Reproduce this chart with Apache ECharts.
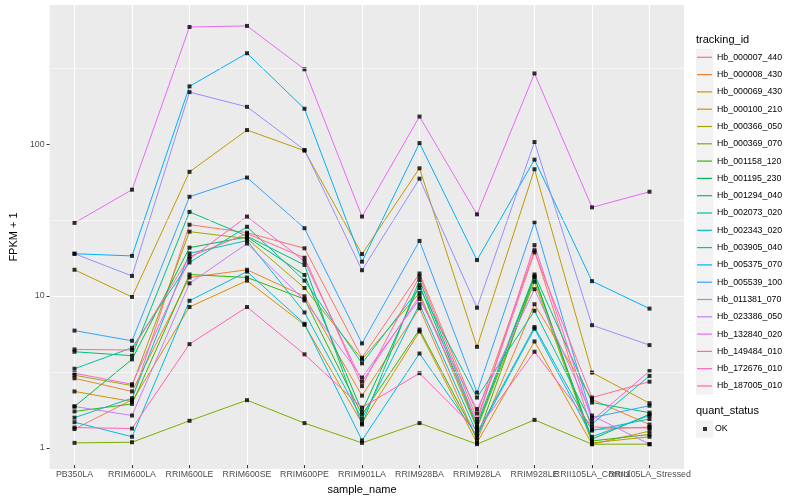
<!DOCTYPE html>
<html><head><meta charset="utf-8">
<script src="https://cdn.jsdelivr.net/npm/echarts@6/dist/echarts.min.js"></script>
<style>html,body{margin:0;padding:0;background:#fff}#c{width:800px;height:500px}</style>
</head><body><div id="c"></div>
<script>
const categories = ['PB350LA','RRIM600LA','RRIM600LE','RRIM600SE','RRIM600PE','RRIM901LA','RRIM928BA','RRIM928LA','RRIM928LE','RRII105LA_Control','RRII105LA_Stressed'];
const trackingIds = ['Hb_000007_440','Hb_000008_430','Hb_000069_430','Hb_000100_210','Hb_000366_050','Hb_000369_070','Hb_001158_120','Hb_001195_230','Hb_001294_040','Hb_002073_020','Hb_002343_020','Hb_003905_040','Hb_005375_070','Hb_005539_100','Hb_011381_070','Hb_023386_050','Hb_132840_020','Hb_149484_010','Hb_172676_010','Hb_187005_010'];
const colors = ['#F8766D','#EA8331','#D89000','#C09B00','#A3A500','#7CAE00','#39B600','#00BB4E','#00BF7D','#00C1A3','#00BFC4','#00BAE0','#00B0F6','#35A2FF','#9590FF','#C77CFF','#E76BF3','#FA62DB','#FF62BC','#FF6C91'];
const yTicks = [1, 10, 100];
const yMinorGrid = [3.1623, 31.623, 316.23];

const Hb_000007_440 = [1.26, 1.97, 28.7, 25.4, 20, 3.75, 13.6, 1.6, 19.4, 1.25, 1.3];
const Hb_000008_430 = [2.74, 2.24, 12.8, 14.4, 9.6, 2.1, 8.0, 1.06, 8.5, 1.98, 1.35];
const Hb_000069_430 = [2.24, 1.92, 8.15, 12.2, 6.2, 1.38, 5.6, 1.02, 4.81, 1.0, 1.22];
const Hb_000100_210 = [14.4, 9.5, 64.4, 122, 89, 18.3, 68, 4.43, 67, 2.99, 1.87];
const Hb_000366_050 = [2.87, 2.45, 25.8, 23.2, 10.9, 3.66, 10.1, 1.27, 12.0, 1.02, 1.12];
const Hb_000369_070 = [1.02, 1.03, 1.43, 1.96, 1.38, 1.02, 1.38, 1.0, 1.45, 1.0, 1.0];
const Hb_001158_120 = [1.65, 1.85, 13.4, 12.8, 9.2, 1.57, 5.77, 1.1, 12.8, 1.05, 1.16];
const Hb_001195_230 = [1.78, 3.66, 20.2, 23.8, 13.3, 1.65, 11.4, 1.3, 13.0, 1.08, 1.58];
const Hb_001294_040 = [4.11, 3.87, 34.9, 24.1, 15.5, 1.35, 12.3, 1.36, 13.4, 1.89, 1.62];
const Hb_002073_020 = [3.17, 4.37, 16.1, 27.8, 12.2, 3.44, 10.9, 2.04, 7.7, 1.36, 2.84];
const Hb_002343_020 = [1.5, 2.02, 18.5, 22.5, 7.5, 1.47, 8.5, 1.18, 6.0, 1.23, 1.47];
const Hb_003905_040 = [1.4, 1.12, 8.97, 14, 6.3, 1.06, 4.0, 1.14, 5.85, 1.12, 1.55];
const Hb_005375_070 = [18.4, 17.8, 238, 395, 169, 16.3, 100, 16.7, 77.6, 12.1, 7.95];
const Hb_005539_100 = [5.68, 4.86, 44, 59, 27.2, 4.67, 22.4, 2.2, 29.8, 1.5, 1.8];
const Hb_011381_070 = [18.4, 13.1, 218, 174, 90, 14.3, 58, 8.06, 101.6, 6.17, 4.55];
const Hb_023386_050 = [1.78, 1.55, 11.7, 21.5, 9.0, 2.77, 9.2, 1.71, 10.7, 1.55, 1.0];
const Hb_132840_020 = [29.5, 49, 590, 600, 309, 32.5, 150, 33.6, 290, 37.4, 47.5];
const Hb_149484_010 = [2.96, 2.5, 17, 32.5, 16.4, 2.6, 9.6, 1.4, 21, 1.43, 3.06];
const Hb_172676_010 = [1.29, 1.27, 4.62, 8.15, 3.95, 1.75, 2.96, 1.23, 4.11, 1.3, 1.28];
const Hb_187005_010 = [4.26, 4.22, 17.6, 25, 17.3, 2.43, 13.0, 1.47, 18.8, 2.04, 2.6];

const seriesValues = [Hb_000007_440,Hb_000008_430,Hb_000069_430,Hb_000100_210,Hb_000366_050,Hb_000369_070,Hb_001158_120,Hb_001195_230,Hb_001294_040,Hb_002073_020,Hb_002343_020,Hb_003905_040,Hb_005375_070,Hb_005539_100,Hb_011381_070,Hb_023386_050,Hb_132840_020,Hb_149484_010,Hb_172676_010,Hb_187005_010];

const FONT = 'Liberation Sans, Arial, Helvetica, sans-serif';
const yMin = Math.pow(10, -0.139), yMax = Math.pow(10, 2.917);

const series = [];
series.push({
  type: 'line', xAxisIndex: 0, yAxisIndex: 0, data: [], silent: true, z: 1,
  markLine: { silent: true, symbol: 'none', label: { show: false },
    lineStyle: { color: '#FFFFFF', width: 0.55, type: 'solid' },
    data: yMinorGrid.map(v => ({ yAxis: v })) }
});
trackingIds.forEach((name, k) => {
  series.push({
    name: name, type: 'line', xAxisIndex: 1, yAxisIndex: 1,
    data: seriesValues[k], showSymbol: false, symbol: 'none', z: 2,
    lineStyle: { color: colors[k], width: 1 }, itemStyle: { color: colors[k] },
    emphasis: { disabled: true }, animation: false
  });
});
const pts = [];
seriesValues.forEach(arr => arr.forEach((v, i) => pts.push([i, v])));
series.push({
  name: 'OK', type: 'scatter', xAxisIndex: 1, yAxisIndex: 1, data: pts,
  symbol: 'rect', symbolSize: 4, itemStyle: { color: '#000' }, z: 3, animation: false
});

const graphics = [];
const keyTop = 57.3 - 8.65, keyStep = 17.3;
trackingIds.forEach((n, k) => {
  graphics.push({ type: 'rect', left: 696, top: keyTop + k * keyStep, z: -1,
    shape: { width: 17.3, height: 17.3 }, style: { fill: '#F2F2F2' } });
});
graphics.push({ type: 'rect', left: 696, top: 429 - 8.65, z: -1,
  shape: { width: 17.3, height: 17.3 }, style: { fill: '#F2F2F2' } });

const option = {
  backgroundColor: '#FFFFFF',
  animation: false,
  textStyle: { fontFamily: FONT },
  title: [
    { text: 'tracking_id', left: 696, top: 34, padding: 0,
      textStyle: { fontSize: 11, fontWeight: 'normal', color: '#000', fontFamily: FONT } },
    { text: 'quant_status', left: 696, top: 405.5, padding: 0,
      textStyle: { fontSize: 11, fontWeight: 'normal', color: '#000', fontFamily: FONT } }
  ],
  graphic: graphics,
  legend: [
    { data: trackingIds.map((n, k) => ({ name: n, icon: 'rect', itemStyle: { color: colors[k] } })),
      orient: 'vertical', left: 697, top: 51.3, padding: 0,
      itemWidth: 15, itemHeight: 1.2, itemGap: 5.3, selectedMode: false,
      textStyle: { fontSize: 8.8, color: '#000', lineHeight: 12, fontFamily: FONT } },
    { data: [{ name: 'OK', icon: 'rect', itemStyle: { color: '#000' } }],
      orient: 'vertical', left: 703, top: 423, padding: 0,
      itemWidth: 4, itemHeight: 4, selectedMode: false,
      textStyle: { fontSize: 8.8, color: '#000', lineHeight: 12, padding: [0, 0, 0, 3], fontFamily: FONT } }
  ],
  grid: [
    { left: 40, right: 116, top: 5, bottom: 31, show: true, backgroundColor: '#EBEBEB', borderWidth: 0 },
    { left: 74.5, width: 575, top: 5, bottom: 31 }
  ],
  xAxis: [
    { gridIndex: 0, type: 'value', min: 0, max: 1, show: false },
    { gridIndex: 1, type: 'category', data: categories, boundaryGap: false,
      name: 'sample_name', nameLocation: 'middle', nameGap: 15,
      nameTextStyle: { fontSize: 11, color: '#000', fontFamily: FONT },
      axisLine: { show: false },
      axisTick: { show: true, length: 3, lineStyle: { color: '#333333', width: 1 } },
      axisLabel: { interval: 0, hideOverlap: false, color: '#4D4D4D', fontSize: 8.8, margin: 5, fontFamily: FONT },
      splitLine: { show: true, lineStyle: { color: '#FFFFFF', width: 1.1 } } }
  ],
  yAxis: [
    { gridIndex: 0, type: 'log', logBase: 10, min: yMin, max: yMax,
      name: 'FPKM + 1', nameLocation: 'middle', nameGap: 25,
      nameTextStyle: { fontSize: 11, color: '#000', fontFamily: FONT },
      axisLine: { show: false },
      axisTick: { show: true, length: 3, customValues: yTicks, lineStyle: { color: '#333333', width: 1 } },
      axisLabel: { customValues: yTicks, color: '#4D4D4D', fontSize: 8.8, margin: 5, fontFamily: FONT,
        formatter: v => String(Math.round(v)) },
      splitLine: { show: true, showMinLine: false, showMaxLine: false, lineStyle: { color: '#FFFFFF', width: 1.1 } } },
    { gridIndex: 1, type: 'log', logBase: 10, min: yMin, max: yMax, show: false,
      splitLine: { show: false } }
  ],
  series: series
};
const chart = echarts.init(document.getElementById('c'), null, { renderer: 'canvas' });
chart.setOption(option);
</script></body></html>
